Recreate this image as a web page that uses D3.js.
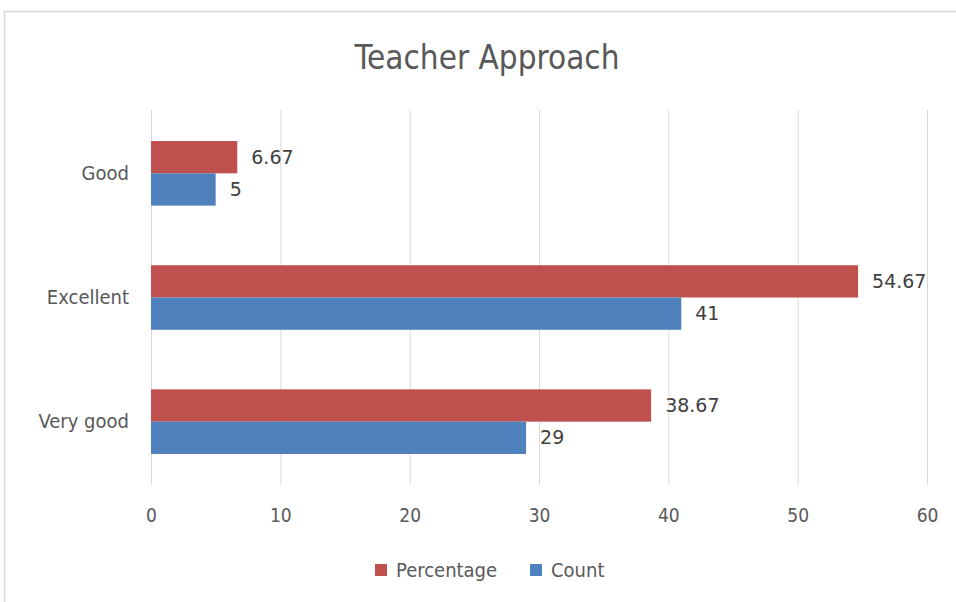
<!DOCTYPE html>
<html>
<head>
<meta charset="utf-8">
<script src="https://cdn.jsdelivr.net/npm/d3@7"></script>
<style>
  body { margin: 0; background: #fff; }
  text { font-family: "Liberation Sans Narrow", "DejaVu Sans Condensed", "Liberation Sans", sans-serif; }
</style>
</head>
<body>
<svg id="chart"></svg>
<script>
// data
const categories = ["Good", "Excellent", "Very good"];
const seriesNames = ["Percentage", "Count"];
const percentage = [6.67, 54.67, 38.67];
const count = [5, 41, 29];
const xTicks = [0, 10, 20, 30, 40, 50, 60];
const colors = ["#C0504D", "#4F81BD"];

const width = 956, height = 602;
const margin = { top: 110, right: 29, bottom: 117, left: 151 };

const svg = d3.select("#chart").attr("width", width).attr("height", height);

// chart frame
svg.append("rect")
  .attr("x", 4.5).attr("y", 11.5)
  .attr("width", 960).attr("height", 620)
  .attr("fill", "#fff").attr("stroke", "#d9d9d9").attr("stroke-width", 1.5);

svg.append("text")
  .attr("x", 487).attr("y", 69)
  .attr("text-anchor", "middle")
  .attr("font-size", 33)
  .attr("fill", "#595959")
  .text("Teacher Approach");

const x = d3.scaleLinear().domain([0, 60]).range([margin.left, width - margin.right]);
const y = d3.scaleBand().domain(categories).range([margin.top, height - margin.bottom]).paddingInner(0.48).paddingOuter(0.25);
const ySub = d3.scaleBand().domain(seriesNames).range([0, y.bandwidth()]);

// gridlines
svg.append("g").selectAll("line")
  .data(xTicks)
  .join("line")
  .attr("x1", d => x(d) + 0.5).attr("x2", d => x(d) + 0.5)
  .attr("y1", margin.top).attr("y2", height - margin.bottom)
  .attr("stroke", "#d9d9d9").attr("stroke-width", 1);

// x tick labels
const xAxis = svg.append("g")
  .attr("transform", `translate(0,${height - margin.bottom})`)
  .call(d3.axisBottom(x).tickValues(xTicks).tickSize(0).tickPadding(24));
xAxis.select(".domain").remove();
xAxis.selectAll("text").attr("font-size", 19).attr("fill", "#595959")
  .style("font-family", '"Liberation Sans Narrow", "DejaVu Sans Condensed", sans-serif');

// category labels
const yAxis = svg.append("g")
  .attr("transform", `translate(${margin.left},0)`)
  .call(d3.axisLeft(y).tickSize(0).tickPadding(22));
yAxis.select(".domain").remove();
yAxis.selectAll("text").attr("font-size", 20).attr("fill", "#595959")
  .style("font-family", '"Liberation Sans Narrow", "DejaVu Sans Condensed", sans-serif');

const rows = categories.map((c, i) => ({ cat: c, values: [percentage[i], count[i]] }));

const groups = svg.append("g").selectAll("g")
  .data(rows)
  .join("g")
  .attr("transform", d => `translate(0,${y(d.cat)})`);

groups.selectAll("rect")
  .data(d => d.values.map((v, j) => ({ name: seriesNames[j], v, j })))
  .join("rect")
  .attr("x", x(0))
  .attr("y", d => ySub(d.name))
  .attr("width", d => x(d.v) - x(0))
  .attr("height", ySub.bandwidth())
  .attr("fill", d => colors[d.j]);

groups.selectAll("text.lbl")
  .data(d => d.values.map((v, j) => ({ name: seriesNames[j], v, j })))
  .join("text")
  .attr("class", "lbl")
  .attr("x", d => x(d.v) + 14)
  .attr("y", d => ySub(d.name) + ySub.bandwidth() / 2)
  .attr("dy", "0.35em")
  .attr("fill", "#404040")
  .style("font-family", '"DejaVu Sans", sans-serif')
  .style("font-size", "19px")
  .text(d => d.v);

// legend
const legend = svg.append("g").attr("transform", "translate(375,570)");
const legendX = [0, 155];
seriesNames.forEach((name, j) => {
  const g = legend.append("g").attr("transform", `translate(${legendX[j]},0)`);
  g.append("rect").attr("x", 0).attr("y", -6).attr("width", 12).attr("height", 12).attr("fill", colors[j]);
  g.append("text").attr("x", 21).attr("y", 0).attr("dy", "0.35em")
    .attr("font-size", 20).attr("fill", "#595959").text(name);
});
</script>
</body>
</html>
